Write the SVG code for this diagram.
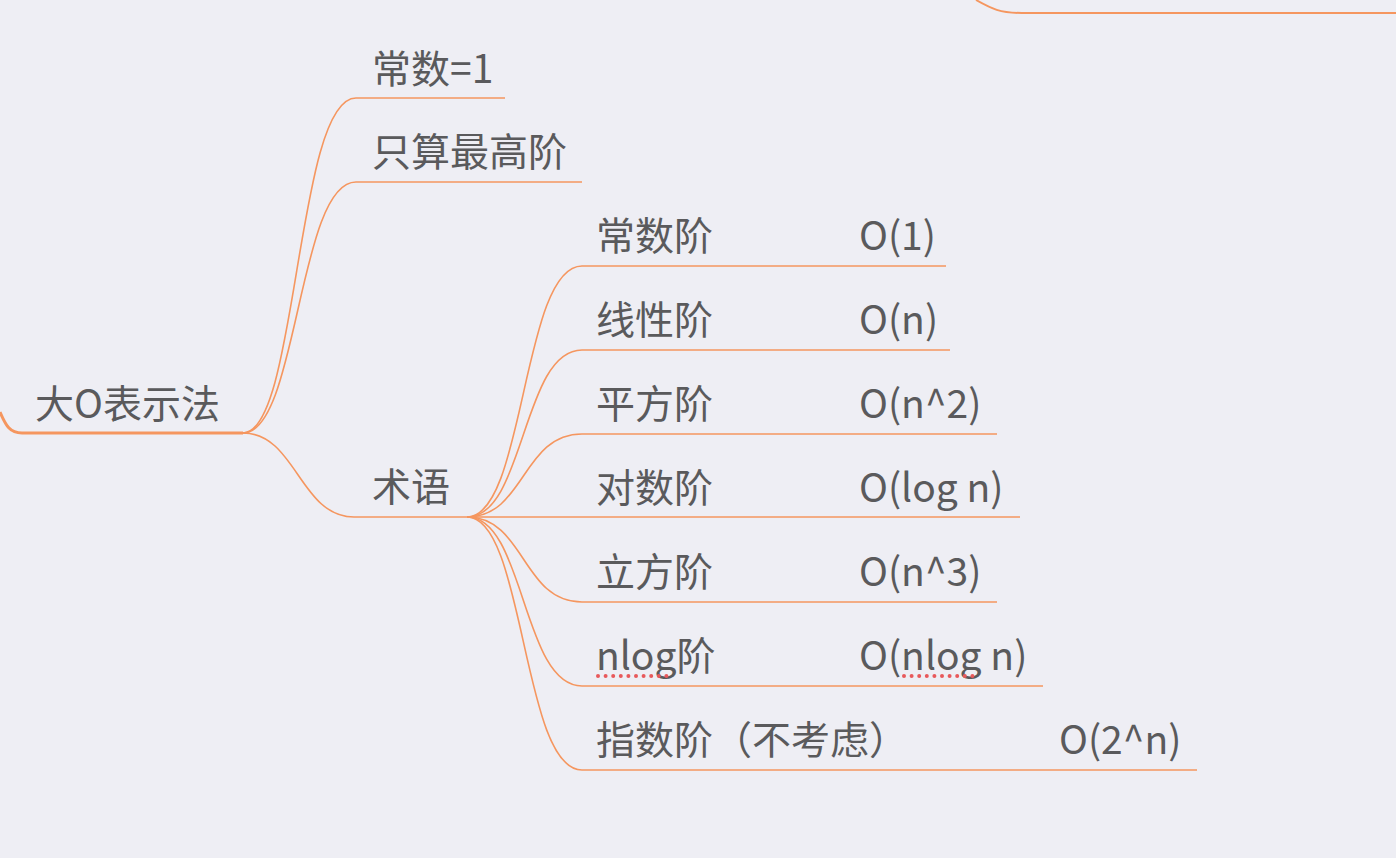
<svg xmlns="http://www.w3.org/2000/svg" width="1396" height="858" viewBox="0 0 1396 858">
<style>
.bg{fill:#eeeef4}
.t{font-family:"Noto Sans CJK SC","Liberation Sans",sans-serif;font-size:39px;fill:#5a5a5c}
.c{fill:none;stroke:#f5965f;stroke-width:1.6}
.root{fill:none;stroke:#f5965f;stroke-width:3}
.sq{fill:none;stroke:#e8595b;stroke-width:4;stroke-linecap:round;stroke-dasharray:0 7.6}
</style>
<rect class="bg" x="0" y="0" width="1396" height="858"/>
<g id="connectors">
<path class="root" d="M0,412 C6,426 10,433 22,433 H243"/>
<path class="root" d="M976,0 C992,9 1000,13 1022,13 H1396" style="stroke-width:2"/>
<path class="c" d="M243,433 C298,433 296,98 356,98 H505"/>
<path class="c" d="M243,433 C298,433 298,182 356,182 H582"/>
<path class="c" d="M243,433 C296,433 300,517 354,517 H467"/>
<path class="c" d="M467,517 C525,517 522,266 582,266 H946"/>
<path class="c" d="M467,517 C525,517 522,350 582,350 H950"/>
<path class="c" d="M467,517 C525,517 522,434 582,434 H997"/>
<path class="c" d="M467,517 H1020"/>
<path class="c" d="M467,517 C525,517 522,602 582,602 H997"/>
<path class="c" d="M467,517 C525,517 522,686 582,686 H1043"/>
<path class="c" d="M467,517 C525,517 522,770 582,770 H1197"/>
</g>
<g id="n-root"><text class="t" x="35" y="418">大O表示法</text></g>
<g id="n-const"><text class="t" x="372" y="83">常数=1</text></g>
<g id="n-highest"><text class="t" x="372" y="166">只算最高阶</text></g>
<g id="n-terms"><text class="t" x="372" y="501">术语</text></g>
<g id="n-o1"><text class="t" x="596" y="250">常数阶</text><text class="t" x="859" y="250">O(1)</text></g>
<g id="n-on"><text class="t" x="596" y="334">线性阶</text><text class="t" x="859" y="334">O(n)</text></g>
<g id="n-on2"><text class="t" x="596" y="418">平方阶</text><text class="t" x="859" y="418">O(n^2)</text></g>
<g id="n-log"><text class="t" x="596" y="502">对数阶</text><text class="t" x="859" y="502">O(log n)</text></g>
<g id="n-on3"><text class="t" x="596" y="586">立方阶</text><text class="t" x="859" y="586">O(n^3)</text></g>
<g id="n-nlog"><text class="t" x="596" y="670">nlog阶</text><text class="t" x="859" y="670">O(nlog n)</text>
<path class="sq" d="M598,676 H672"/><path class="sq" d="M904,676 H979"/></g>
<g id="n-exp"><text class="t" x="596" y="754">指数阶（不考虑）</text><text class="t" x="1059" y="754">O(2^n)</text></g>
</svg>
